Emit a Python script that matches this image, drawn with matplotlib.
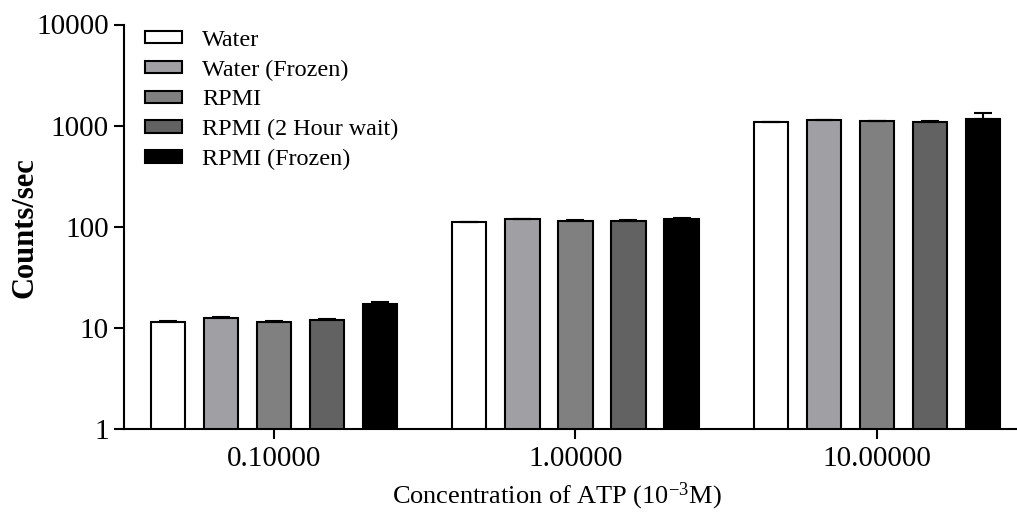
import numpy as np
import matplotlib
matplotlib.use('Agg')
from matplotlib import pyplot as plt

plt.rcParams['font.family'] = ['Liberation Serif', 'DejaVu Serif']
plt.rcParams['mathtext.fontset'] = 'custom'
plt.rcParams['mathtext.rm'] = 'Liberation Serif'
plt.rcParams['mathtext.it'] = 'Liberation Serif:italic'

# concentration groups (10^-3 M)
concentrations = ['0.10000', '1.00000', '10.00000']
series_names = ['Water', 'Water (Frozen)', 'RPMI', 'RPMI (2 Hour wait)', 'RPMI (Frozen)']
series_colors = ['#ffffff', '#a09fa4', '#808080', '#626262', '#000000']

# mean counts/sec, one list per series (values per concentration)
water = [11.4, 111, 1079]
water_frozen = [12.4, 119, 1128]
rpmi = [11.5, 114, 1104]
rpmi_wait = [12.0, 114, 1079]
rpmi_frozen = [17.2, 120, 1154]

# upper error (SEM)
water_err = [0.3, 1, 5]
water_frozen_err = [0.3, 1.5, 5]
rpmi_err = [0.2, 2, 5]
rpmi_wait_err = [0.3, 2, 25]
rpmi_frozen_err = [0.7, 1.5, 170]

means = [water, water_frozen, rpmi, rpmi_wait, rpmi_frozen]
errors = [water_err, water_frozen_err, rpmi_err, rpmi_wait_err, rpmi_frozen_err]

fig = plt.figure(figsize=(10.17, 5.21), dpi=100)
ax = fig.add_axes([124 / 1017, 92 / 521, 893 / 1017, 404.5 / 521])

x = np.arange(len(concentrations))
pitch = 0.176
width = 0.114
for i in range(len(series_names)):
    pos = x + (i - 2) * pitch
    ax.bar(pos, means[i], width=width, color=series_colors[i], edgecolor='black',
           linewidth=1.5, label=series_names[i], zorder=2)
    ax.errorbar(pos, means[i], yerr=[np.zeros(len(x)), errors[i]], fmt='none',
                ecolor='black', elinewidth=1.5, capsize=6.8, capthick=1.5, zorder=3)

ax.set_yscale('log')
ax.set_ylim(1, 10000)
ax.set_xlim(-0.4975, 2.465)
ax.set_yticks([1, 10, 100, 1000, 10000])
ax.set_yticklabels(['1', '10', '100', '1000', '10000'])
ax.yaxis.set_minor_locator(matplotlib.ticker.NullLocator())
ax.set_xticks(x)
ax.set_xticklabels(concentrations)

for side in ['top', 'right']:
    ax.spines[side].set_visible(False)
for side in ['left', 'bottom']:
    ax.spines[side].set_linewidth(1.5)
ax.tick_params(axis='both', which='major', direction='out', length=7, width=1.5,
               labelsize=21, pad=4)
ax.tick_params(axis='x', pad=5.5)

ax.set_ylabel('Counts/sec', fontsize=22, fontweight='bold')
ax.yaxis.set_label_coords(-0.095, 0.497)
ax.set_xlabel('Concentration of ATP (10$^{-3}$M)', fontsize=19, va='top')
ax.xaxis.set_label_coords(0.485, -0.128)

ax.legend(loc='upper left', bbox_to_anchor=(0.0235, 0.987), frameon=False,
          fontsize=17.4, handlelength=1.53, handleheight=0.41, handletextpad=0.83,
          labelspacing=0.36, borderpad=0, borderaxespad=0)

fig.savefig('out.png', dpi=100)
